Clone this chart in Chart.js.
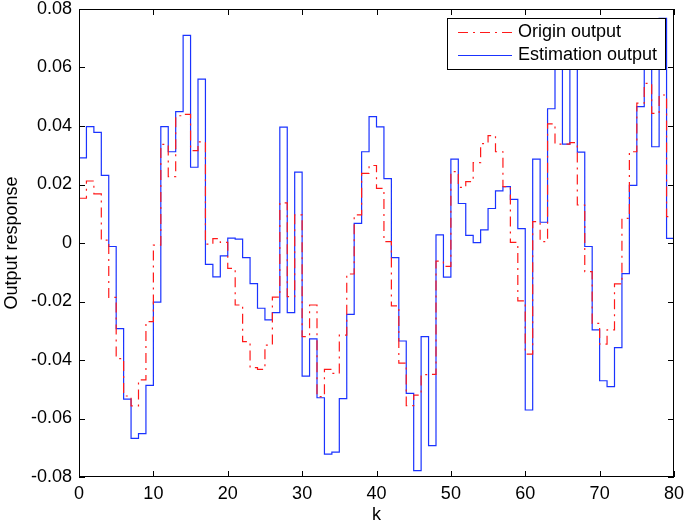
<!DOCTYPE html>
<html lang="en">
<head>
    <meta charset="UTF-8">
    <title>Output response</title>
    <script src="https://cdn.jsdelivr.net/npm/chart.js"></script>
    <style>
        body {
            margin: 0;
            background-color: white;
        }
        .chart-container {
            position: relative;
            width: 685px;
            height: 527px;
        }
    </style>
</head>
<body>
    <div class="chart-container">
        <canvas id="outputChart"></canvas>
    </div>

    <script>
        // sample index k = 0..79, each value held until the next k (stairs)
        const steps = Array.from({ length: 80 }, (_, i) => i);

        const originOutput = [
            0.0153, 0.0212, 0.0168, 0.0010, -0.0186, -0.0395, -0.0523, -0.0557, -0.0468, -0.0269,
            -0.0007, 0.0337, 0.0227, 0.0435, 0.0440, 0.0316, 0.0346, -0.0004, 0.0015, 0.0002,
            -0.0087, -0.0212, -0.0337, -0.0426, -0.0432, -0.0349, -0.0185, 0.0137, -0.0183, 0.0096,
            -0.0320, -0.0212, -0.0525, -0.0432, -0.0446, -0.0315, -0.0106, 0.0096, 0.0238, 0.0265,
            0.0187, 0.0005, -0.0215, -0.0411, -0.0556, -0.0520, -0.0450, -0.0449, -0.0062, -0.0080,
            0.0244, 0.0190, 0.0210, 0.0275, 0.0340, 0.0367, 0.0312, 0.0193, 0.0002, -0.0198,
            -0.0380, 0.0073, 0.0005, 0.0407, 0.0338, 0.0338, 0.0343, 0.0130, -0.0098, -0.0275,
            -0.0346, -0.0297, -0.0140, 0.0084, 0.0312, 0.0478, 0.0546, 0.0443, 0.0506, 0.0090
        ];

        const estimationOutput = [
            0.0291, 0.0398, 0.0378, 0.0231, -0.0012, -0.0293, -0.0534, -0.0668, -0.0652, -0.0487,
            -0.0202, 0.0398, 0.0312, 0.0449, 0.0710, 0.0259, 0.0560, -0.0073, -0.0116, -0.0044,
            0.0017, 0.0013, -0.0050, -0.0139, -0.0223, -0.0263, -0.0238, 0.0396, -0.0238, 0.0242,
            -0.0455, -0.0328, -0.0529, -0.0722, -0.0715, -0.0532, -0.0244, 0.0067, 0.0312, 0.0432,
            0.0397, 0.0220, -0.0050, -0.0335, -0.0514, -0.0778, -0.0320, -0.0693, 0.0028, -0.0117,
            0.0287, 0.0135, 0.0026, 0.0001, 0.0045, 0.0118, 0.0178, 0.0193, 0.0149, 0.0049,
            -0.0571, 0.0287, 0.0071, 0.0459, 0.0660, 0.0338, 0.0680, 0.0311, -0.0012, -0.0297,
            -0.0471, -0.0491, -0.0358, -0.0105, 0.0197, 0.0466, 0.0650, 0.0329, 0.0768, 0.0016
        ];

        const xTicks = [0, 10, 20, 30, 40, 50, 60, 70, 80];
        const yTicks = [-0.08, -0.06, -0.04, -0.02, 0, 0.02, 0.04, 0.06, 0.08];

        const FONT = 'Arial, "Liberation Sans", Helvetica, sans-serif';

        // stairs: last value is held to the end of the axis
        function stairPoints(values) {
            const pts = steps.map((k, i) => ({ x: k, y: values[i] }));
            pts.push({ x: steps[steps.length - 1] + 1, y: values[values.length - 1] });
            return pts;
        }

        // box, inward tick marks and the legend, drawn the way the original plot has them
        const framePlugin = {
            id: 'frame',
            afterDraw(chart) {
                const { ctx, chartArea: a, scales } = chart;
                const len = 6;
                ctx.save();
                ctx.strokeStyle = '#000';
                ctx.lineWidth = 1;
                ctx.strokeRect(a.left + 0.5, a.top + 0.5, a.right - a.left - 1, a.bottom - a.top - 1);

                ctx.beginPath();
                xTicks.forEach(v => {
                    const px = Math.round(scales.x.getPixelForValue(v)) + 0.5;
                    ctx.moveTo(px, a.bottom);
                    ctx.lineTo(px, a.bottom - len);
                    ctx.moveTo(px, a.top);
                    ctx.lineTo(px, a.top + len);
                });
                yTicks.forEach(v => {
                    const py = Math.round(scales.y.getPixelForValue(v)) + 0.5;
                    ctx.moveTo(a.left, py);
                    ctx.lineTo(a.left + len, py);
                    ctx.moveTo(a.right, py);
                    ctx.lineTo(a.right - len, py);
                });
                ctx.stroke();

                // legend box in the upper right corner
                const boxW = 218, boxH = 51;
                const bx = a.right - 9 - boxW, by = a.top + 9;
                ctx.fillStyle = '#fff';
                ctx.fillRect(bx, by, boxW, boxH);
                ctx.strokeRect(bx + 0.5, by + 0.5, boxW, boxH);
                ctx.font = '18px ' + FONT;
                ctx.textBaseline = 'middle';
                ctx.textAlign = 'left';
                chart.data.datasets.forEach((ds, i) => {
                    const cy = by + 14 + i * 23;
                    ctx.beginPath();
                    ctx.strokeStyle = ds.borderColor;
                    ctx.lineWidth = ds.borderWidth;
                    ctx.setLineDash(ds.borderDash || []);
                    ctx.moveTo(bx + 11, cy + 0.5);
                    ctx.lineTo(bx + 65, cy + 0.5);
                    ctx.stroke();
                    ctx.setLineDash([]);
                    ctx.fillStyle = '#000';
                    ctx.fillText(ds.label, bx + 71, cy);
                });
                ctx.restore();
            }
        };

        const ctx = document.getElementById('outputChart').getContext('2d');
        new Chart(ctx, {
            type: 'line',
            data: {
                datasets: [{
                    label: 'Origin output',
                    data: stairPoints(originOutput),
                    borderColor: '#ff1a1a',
                    borderWidth: 1.2,
                    borderDash: [10, 5, 2, 5],
                    stepped: 'before',
                    pointRadius: 0,
                    fill: false
                }, {
                    label: 'Estimation output',
                    data: stairPoints(estimationOutput),
                    borderColor: '#1a33ff',
                    borderWidth: 1.2,
                    stepped: 'before',
                    pointRadius: 0,
                    fill: false
                }]
            },
            options: {
                responsive: true,
                maintainAspectRatio: false,
                animation: false,
                layout: { padding: { left: 0, right: 11, top: 9, bottom: 0 } },
                plugins: {
                    legend: { display: false },
                    tooltip: { enabled: false }
                },
                scales: {
                    x: {
                        type: 'linear',
                        min: 0,
                        max: 80,
                        afterBuildTicks: s => { s.ticks = xTicks.map(v => ({ value: v })); },
                        afterFit: s => { s.height = 50; s.paddingLeft = 0; s.paddingRight = 0; },
                        grid: { display: false, drawTicks: false },
                        border: { display: false },
                        ticks: {
                            color: '#000',
                            padding: 6,
                            maxRotation: 0,
                            font: { family: FONT, size: 18 }
                        },
                        title: {
                            display: true,
                            text: 'k',
                            color: '#000',
                            padding: { top: 0, bottom: 1 },
                            font: { family: FONT, size: 18 }
                        }
                    },
                    y: {
                        min: -0.08,
                        max: 0.08,
                        afterBuildTicks: s => { s.ticks = yTicks.map(v => ({ value: v })); },
                        afterFit: s => { s.width = 79; s.paddingTop = 0; s.paddingBottom = 0; },
                        grid: { display: false, drawTicks: false },
                        border: { display: false },
                        ticks: {
                            color: '#000',
                            padding: 7,
                            font: { family: FONT, size: 18 },
                            callback: v => Math.abs(v) < 1e-9 ? '0' : v.toFixed(2)
                        },
                        title: {
                            display: true,
                            text: 'Output response',
                            color: '#000',
                            padding: { top: 1, bottom: 0 },
                            font: { family: FONT, size: 18 }
                        }
                    }
                }
            },
            plugins: [framePlugin]
        });
    </script>
</body>
</html>
